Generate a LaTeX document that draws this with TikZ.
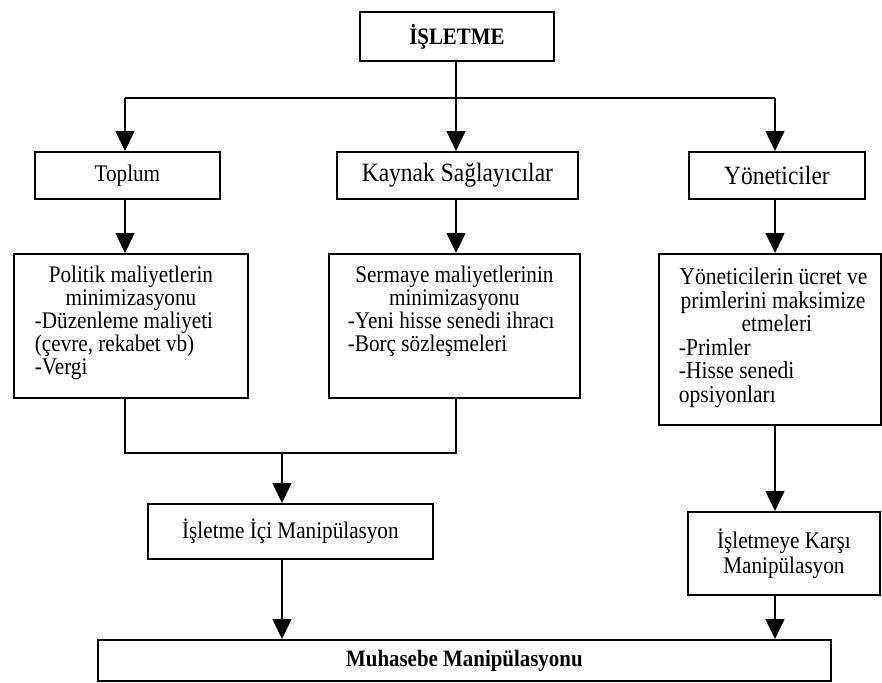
\documentclass[tikz,border=0pt]{standalone}
\usepackage{fontspec}
\setmainfont{Liberation Serif}[FakeStretch=0.89]
\usetikzlibrary{arrows.meta}
\begin{document}
\begin{tikzpicture}[x=1pt,y=-1pt,
  box/.style={draw, line width=1.8pt, inner sep=0pt, anchor=north west},
  arr/.style={line width=1.5pt, -{Triangle[length=20pt,width=19pt]}},
  ln/.style={line width=1.5pt},
  std/.style={font=\fontsize{23.8}{25}\selectfont},
  big/.style={font=\fontsize{26.4}{27}\selectfont},
  bold/.style={font=\fontsize{23.5}{25}\selectfont\bfseries}]
\useasboundingbox (0,0) rectangle (882,682);
% boxes
\node[box, bold, minimum width=194pt, minimum height=49pt] (isl) at (359,11) {İŞLETME};
\node[box, std, minimum width=185pt, minimum height=47pt] (toplum) at (34,151) {Toplum};
\node[box, big, minimum width=241pt, minimum height=47pt] (kaynak) at (336,151) {Kaynak Sağlayıcılar};
\node[box, big, minimum width=176pt, minimum height=47pt] (yon) at (688,151) {Yöneticiler};
\node[box] (politik) at (13,253) {\parbox[c][144pt][t]{234pt}{\fontsize{23.8}{23}\selectfont\centering
  \rule{0pt}{29pt}Politik maliyetlerin\\ minimizasyonu\par
  \raggedright\leftskip=21pt -Düzenleme maliyeti\\ (çevre, rekabet vb)\\ -Vergi\par}};
\node[box] (sermaye) at (328,253) {\parbox[c][144pt][t]{251pt}{\fontsize{23.8}{23}\selectfont\centering
  \rule{0pt}{29pt}Sermaye maliyetlerinin\\ minimizasyonu\par
  \raggedright\leftskip=19pt -Yeni hisse senedi ihracı\\ -Borç sözleşmeleri\par}};
\node[box] (yon2) at (658,253) {\parbox[c][171pt][t]{222pt}{\fontsize{24.2}{23.5}\selectfont
  \leftskip=14pt plus 1fil \rightskip=0pt plus 1fil \parfillskip=0pt
  \rule{0pt}{31pt}Yöneticilerin ücret ve\\ primlerini maksimize\\ etmeleri\par
  \raggedright\leftskip=20pt -Primler\\ -Hisse senedi\\ opsiyonları\par}};
\node[box, std, minimum width=285pt, minimum height=55pt] (ici) at (147,503) {İşletme İçi Manipülasyon};
\node[box, std, align=center, minimum width=192pt, minimum height=83pt] (karsi) at (687,511) {İşletmeye Karşı\\ Manipülasyon};
\node[box, bold, minimum width=733pt, minimum height=41pt] (muh) at (97,639) {Muhasebe Manipülasyonu};
% junctions
\coordinate (jA) at (125,98);
\coordinate (jB) at (456,98);
\coordinate (jC) at (775,98);
\coordinate (mL) at (125,453);
\coordinate (mR) at (456,453);
\coordinate (mD) at (282,453);
% connectors
\draw[ln] (isl.south -| jB) -- (jB);
\draw[ln] (jA) -- (jC);
\draw[arr] (jA) -- (toplum.north -| jA);
\draw[arr] (jB) -- (kaynak.north -| jB);
\draw[arr] (jC) -- (yon.north -| jC);
\draw[arr] (toplum.south -| jA) -- (politik.north -| jA);
\draw[arr] (kaynak.south -| jB) -- (sermaye.north -| jB);
\draw[arr] (yon.south -| jC) -- (yon2.north -| jC);
\draw[ln] (politik.south -| mL) -- (mL) -- (mR) -- (sermaye.south -| mR);
\draw[arr] (mD) -- (ici.north -| mD);
\draw[arr] (ici.south -| mD) -- (muh.north -| mD);
\draw[arr] (yon2.south -| jC) -- (karsi.north -| jC);
\draw[arr] (karsi.south -| jC) -- (muh.north -| jC);
\end{tikzpicture}
\end{document}
